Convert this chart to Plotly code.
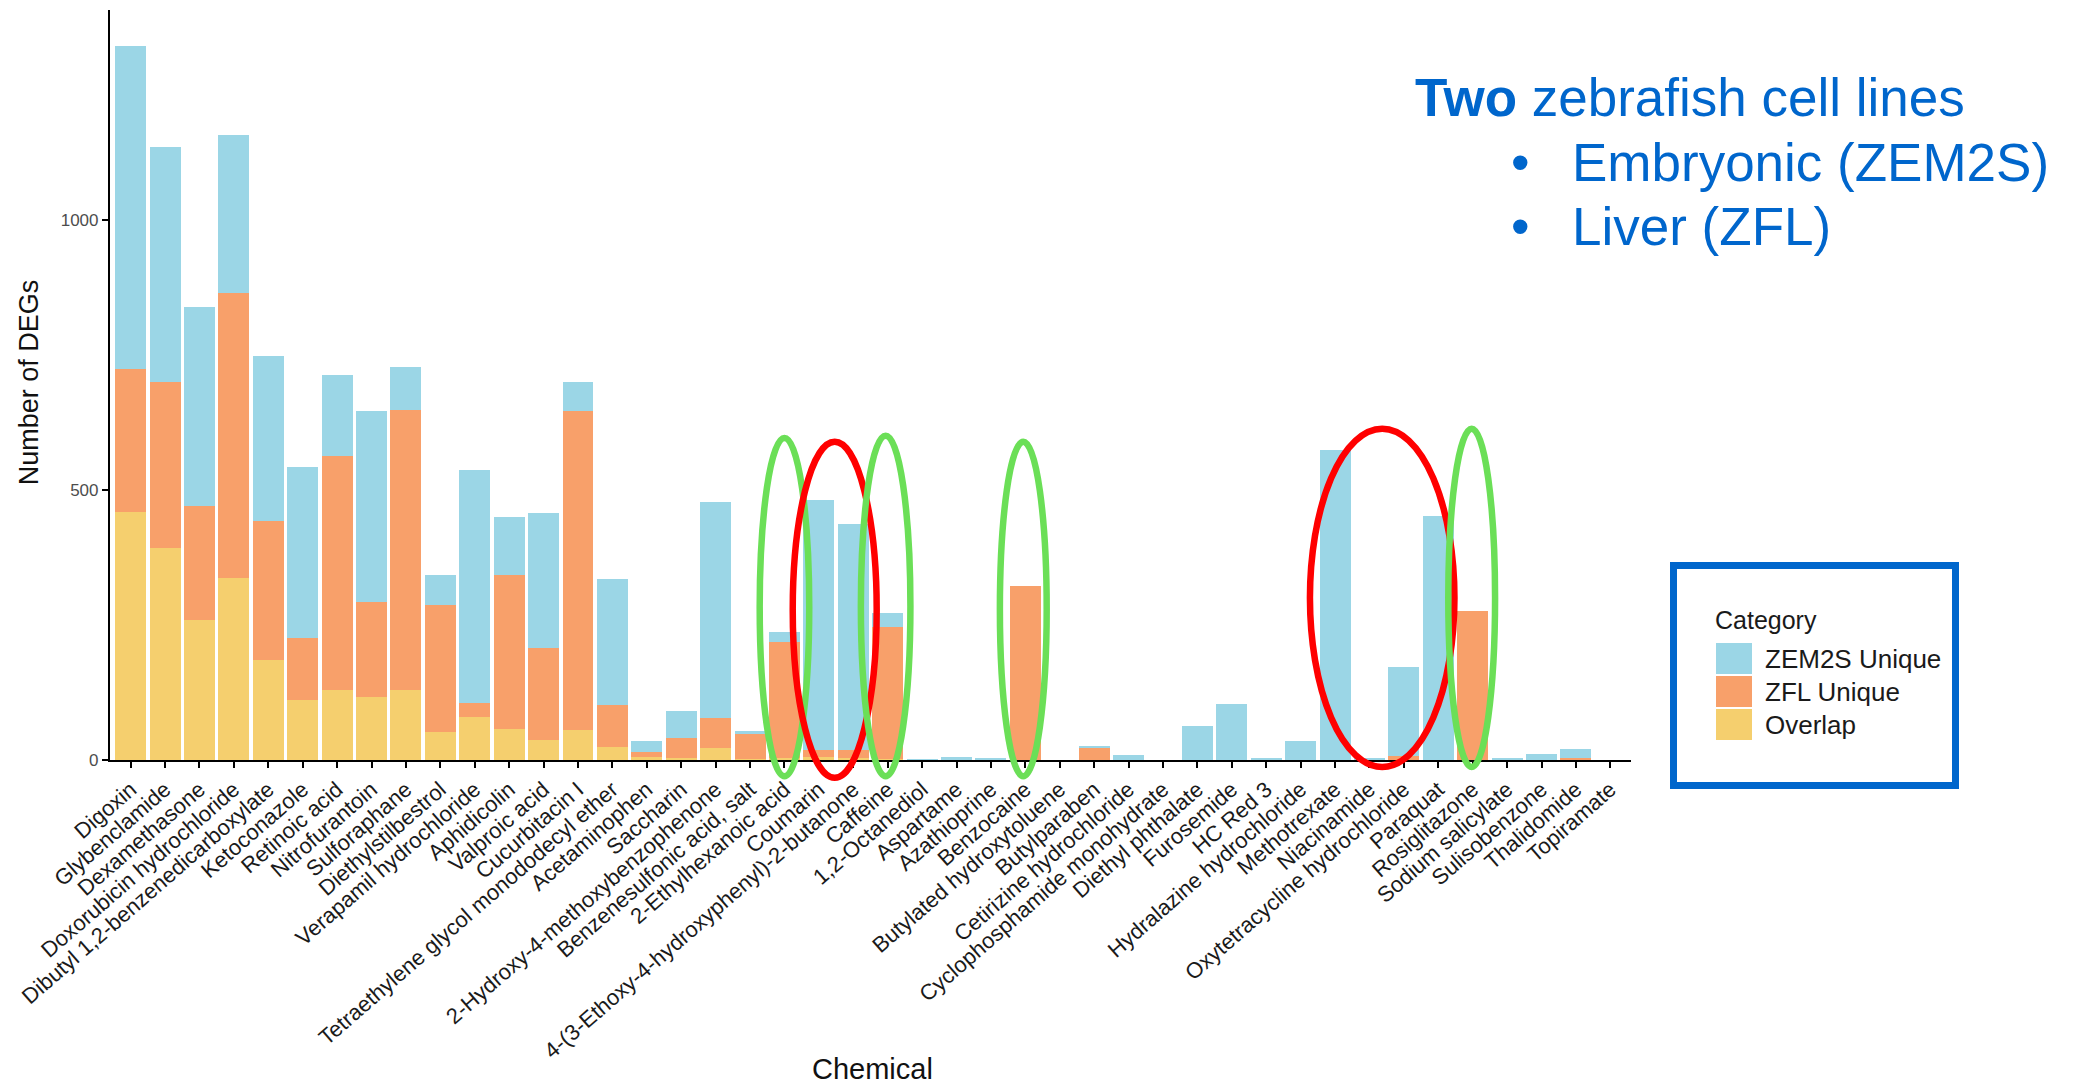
import plotly.graph_objects as go

chemicals = [
    "Digoxin", "Glybenclamide", "Dexamethasone", "Doxorubicin hydrochloride",
    "Dibutyl 1,2-benzenedicarboxylate", "Ketoconazole", "Retinoic acid", "Nitrofurantoin",
    "Sulforaphane", "Diethylstilbestrol", "Verapamil hydrochloride", "Aphidicolin",
    "Valproic acid", "Cucurbitacin I", "Tetraethylene glycol monododecyl ether",
    "Acetaminophen", "Saccharin", "2-Hydroxy-4-methoxybenzophenone",
    "Benzenesulfonic acid, salt", "2-Ethylhexanoic acid", "Coumarin",
    "4-(3-Ethoxy-4-hydroxyphenyl)-2-butanone", "Caffeine", "1,2-Octanediol", "Aspartame",
    "Azathioprine", "Benzocaine", "Butylated hydroxytoluene", "Butylparaben",
    "Cetirizine hydrochloride", "Cyclophosphamide monohydrate", "Diethyl phthalate",
    "Furosemide", "HC Red 3", "Hydralazine hydrochloride", "Methotrexate", "Niacinamide",
    "Oxytetracycline hydrochloride", "Paraquat", "Rosiglitazone", "Sodium salicylate",
    "Sulisobenzone", "Thalidomide", "Topiramate",
]

overlap = [460, 392, 259, 337, 186, 111, 129, 116, 129, 51,
           79, 58, 38, 56, 25, 5, 3, 22, 2, 4,
           5, 3, 2, 0, 0, 0, 0, 0, 0, 0,
           0, 0, 0, 0, 0, 0, 0, 0, 0, 0,
           0, 0, 0, 0]
zfl_unique = [264, 308, 211, 529, 257, 116, 434, 176, 519, 237,
              26, 285, 169, 590, 77, 9, 37, 55, 48, 214,
              14, 16, 245, 0, 0, 0, 322, 0, 22, 0,
              0, 0, 0, 0, 0, 0, 0, 7, 0, 277,
              0, 0, 3, 0]
zem2s_unique = [600, 436, 370, 293, 306, 316, 150, 354, 80, 55,
                432, 107, 250, 54, 234, 21, 51, 401, 3, 20,
                463, 418, 26, 1, 6, 4, 0, 0, 4, 10,
                0, 63, 104, 4, 36, 575, 2, 165, 453, 0,
                3, 12, 17, 0]

series_names = ["ZEM2S Unique", "ZFL Unique", "Overlap"]
series_colors = ["#9BD6E6", "#F8A06A", "#F5CF6E"]
y_ticks = [0, 500, 1000]

# highlight ellipses: (center index, half width in categories, top value, bottom value, color)
ellipses = [
    (19.0, 0.72, 597, -30, "#6BDF57"),
    (20.46, 1.22, 590, -33, "#FF0000"),
    (21.94, 0.72, 601, -30, "#6BDF57"),
    (25.94, 0.68, 590, -30, "#6BDF57"),
    (36.37, 2.10, 614, -13, "#FF0000"),
    (38.97, 0.68, 614, -13, "#6BDF57"),
]

FONT = "Liberation Sans, Arial, sans-serif"
W, H = 2075, 1088
L, R, T, B = 110, 2075 - 1631, 10, 1088 - 760
XR = [-0.6, len(chemicals) - 1 + 0.6]
YR = [0, 1390]
pw, ph = W - L - R, H - T - B


def px_x(px):
    return (px - L) / pw


def px_y(py):
    return (H - B - py) / ph


def idx_x(i):
    return (i - XR[0]) / (XR[1] - XR[0])


def val_y(v):
    return (v - YR[0]) / (YR[1] - YR[0])


fig = go.Figure()
for name, vals, col in [("Overlap", overlap, series_colors[2]),
                        ("ZFL Unique", zfl_unique, series_colors[1]),
                        ("ZEM2S Unique", zem2s_unique, series_colors[0])]:
    fig.add_trace(go.Bar(x=chemicals, y=vals, name=name, marker=dict(color=col, line=dict(width=0)),
                         width=0.9, showlegend=False))

shapes = []
for cx, hw, top, bot, col in ellipses:
    shapes.append(dict(type="circle", xref="paper", yref="paper",
                       x0=idx_x(cx - hw), x1=idx_x(cx + hw), y0=val_y(bot), y1=val_y(top),
                       line=dict(color=col, width=6.5), layer="above"))

# legend box
shapes.append(dict(type="rect", xref="paper", yref="paper",
                   x0=px_x(1673.5), x1=px_x(1955.5), y0=px_y(785.5), y1=px_y(565.5),
                   line=dict(color="#0066CC", width=7), fillcolor="white"))
sw_tops = [643, 676, 709]
for i, (nm, col) in enumerate(zip(series_names, series_colors)):
    shapes.append(dict(type="rect", xref="paper", yref="paper",
                       x0=px_x(1716), x1=px_x(1752), y0=px_y(sw_tops[i] + 31), y1=px_y(sw_tops[i]),
                       line=dict(width=0), fillcolor=col))

annotations = []
annotations.append(dict(text="Category", xref="paper", yref="paper", x=px_x(1713), y=px_y(620),
                        xanchor="left", yanchor="middle", showarrow=False,
                        font=dict(family=FONT, size=25, color="#1a1a1a")))
for i, nm in enumerate(series_names):
    annotations.append(dict(text=nm, xref="paper", yref="paper", x=px_x(1763), y=px_y(sw_tops[i] + 16),
                            xanchor="left", yanchor="middle", showarrow=False,
                            font=dict(family=FONT, size=26, color="#1a1a1a")))

blue = "#0066CC"
annotations.append(dict(text="<b>Two</b> zebrafish cell lines", xref="paper", yref="paper",
                        x=px_x(1413), y=px_y(98), xanchor="left", yanchor="middle", showarrow=False,
                        font=dict(family=FONT, size=53, color=blue)))
for yy, txt in [(162, "Embryonic (ZEM2S)"), (226, "Liver (ZFL)")]:
    annotations.append(dict(text="•", xref="paper", yref="paper", x=px_x(1509), y=px_y(yy),
                            xanchor="left", yanchor="middle", showarrow=False,
                            font=dict(family=FONT, size=53, color=blue)))
    annotations.append(dict(text=txt, xref="paper", yref="paper", x=px_x(1570), y=px_y(yy),
                            xanchor="left", yanchor="middle", showarrow=False,
                            font=dict(family=FONT, size=53, color=blue)))

annotations.append(dict(text="Chemical", xref="paper", yref="paper", x=px_x(872), y=px_y(1087),
                        xanchor="center", yanchor="bottom", showarrow=False,
                        font=dict(family=FONT, size=29, color="#111111")))
annotations.append(dict(text="Number of DEGs", xref="paper", yref="paper", x=px_x(29), y=val_y(700),
                        xanchor="center", yanchor="middle", textangle=-90, showarrow=False,
                        font=dict(family=FONT, size=27, color="#111111")))

fig.update_layout(
    width=W, height=H, barmode="stack", bargap=0.1,
    paper_bgcolor="white", plot_bgcolor="white",
    margin=dict(l=L, r=R, t=T, b=B, autoexpand=False),
    font=dict(family=FONT),
    shapes=shapes, annotations=annotations,
    xaxis=dict(type="category", range=XR, showline=True, linecolor="black", linewidth=2.2,
               ticks="outside", ticklen=6, tickwidth=1.5, tickcolor="black", showgrid=False,
               tickangle=-41, tickfont=dict(family=FONT, size=22, color="#1a1a1a"), automargin=False,
               zeroline=False),
    yaxis=dict(range=YR, tickvals=y_ticks, showline=True, linecolor="black", linewidth=2.2,
               ticks="outside", ticklen=6, tickwidth=1.5, tickcolor="black", showgrid=False,
               tickfont=dict(family=FONT, size=17, color="#4D4D4D"), automargin=False,
               zeroline=False),
)

fig.write_html("out.html", config={"displayModeBar": False},
               post_script="document.body.style.margin='0px';document.body.style.overflow='hidden';")
